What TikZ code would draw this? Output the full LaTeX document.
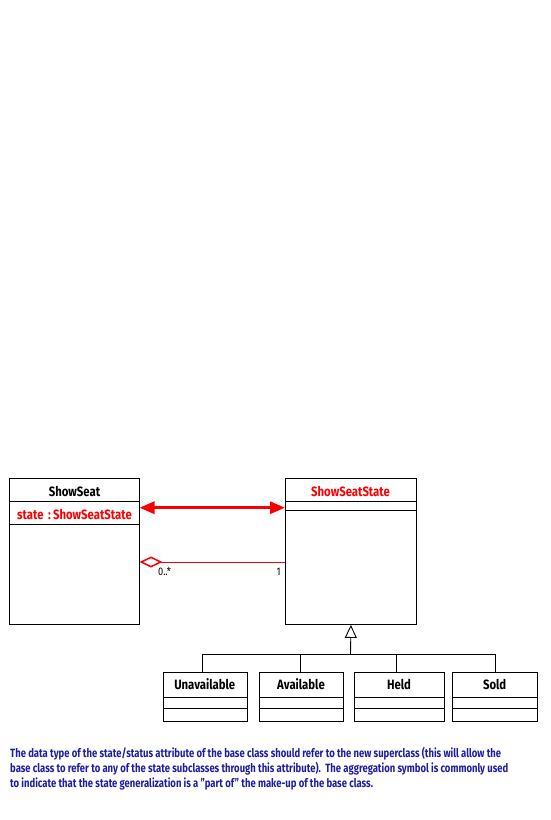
\documentclass[tikz,border=0pt]{standalone}
\usepackage{fontspec}
\setmainfont{Fira Sans}[FakeStretch=0.79]
\newfontfamily\clsfont{Fira Sans}[FakeStretch=0.84]
\usetikzlibrary{arrows.meta}
\definecolor{umlred}{RGB}{250,0,0}
\definecolor{noteblue}{RGB}{30,30,160}
\begin{document}
\begin{tikzpicture}[x=1pt,y=-1pt,
  clsbox/.style={draw=black, line width=0.9pt, anchor=north west, inner sep=0pt, minimum width=#1},
  clsname/.style={font=\clsfont\fontsize{13.5}{15}\selectfont\bfseries, inner sep=0pt, anchor=base},
  sep/.style={draw=black, line width=0.9pt},
  mult/.style={font=\clsfont\fontsize{11}{12}\selectfont, inner sep=0pt, anchor=base west},
  redlink/.style={draw=umlred, line width=3pt, {Triangle[length=15pt,width=12pt]}-{Triangle[length=15pt,width=12pt]}},
  aggr/.style={draw=umlred, line width=0.9pt, {Diamond[open,length=23pt,width=11pt,line width=1.5pt]}-},
  genl/.style={draw=black, line width=0.9pt},
]
\useasboundingbox (0,0) rectangle (550,820);
% ShowSeat
\node[clsbox=130pt, minimum height=146pt] (ss) at (9,478) {};
\node[clsname] (ssname) at (74.5,496.5) {ShowSeat};
\draw[sep] (9,501.7) -- (139,501.7);
\node[clsname, text=umlred] (ssattr) at (74.5,519.5) {state\,\,:\,ShowSeatState};
\draw[sep] (9,524.7) -- (139,524.7);
% ShowSeatState
\node[clsbox=130.4pt, minimum height=146pt] (sss) at (285.3,478) {};
\node[clsname, text=umlred] (sssname) at (350.5,496.5) {ShowSeatState};
\draw[sep] (285.3,501.7) -- (415.7,501.7);
\draw[sep] (285.3,510.3) -- (415.7,510.3);
% associations
\coordinate (a1) at (139.5,507.7);
\coordinate (a2) at (285,507.7);
\draw[redlink] (a1) -- (a2);
\coordinate (g1) at (139.5,562);
\coordinate (g2) at (285,562);
\draw[aggr] (g1) -- (g2);
\node[mult] (m0) at (158,575.5) {0..*};
\node[mult] (m1) at (276.5,575.5) {1};
% subclasses
\foreach \nm/\txt/\xa/\xb in {un/Unavailable/162.7/246.7, av/Available/259.3/342.7, he/Held/354/444, so/Sold/452/537.3}{
  \node[clsbox=\xb pt-\xa pt, minimum height=49.3pt] (\nm) at (\xa,671.7) {};
  \node[clsname] (\nm name) at ({(\xa+\xb)/2},689.5) {\txt};
  \draw[sep] (\xa,697.3) -- (\xb,697.3);
  \draw[sep] (\xa,708.3) -- (\xb,708.3);
}
% generalization
\coordinate (bar) at (350.5,654.3);
\draw[genl, -{Triangle[open,length=13pt,width=12pt]}] (bar) -- (sss.south);
\draw[genl] (202.3,671.7) -- (202.3,654.3) -- (495.3,654.3) -- (495.3,671.7);
\draw[genl] (300.3,654.3) -- (300.3,671.7);
\draw[genl] (396.3,654.3) -- (396.3,671.7);
% note
\node[anchor=base west, inner sep=0pt, align=left, text=noteblue,
  font=\fontsize{12}{15}\selectfont\bfseries] (note) at (10,787)
  {The data type of the state/status attribute of the base class should refer to the new superclass (this will allow the\\
   base class to refer to any of the state subclasses through this attribute).\ \ The aggregation symbol is commonly used\\
   to indicate that the state generalization is a ''part of'' the make-up of the base class.};
\end{tikzpicture}
\end{document}
